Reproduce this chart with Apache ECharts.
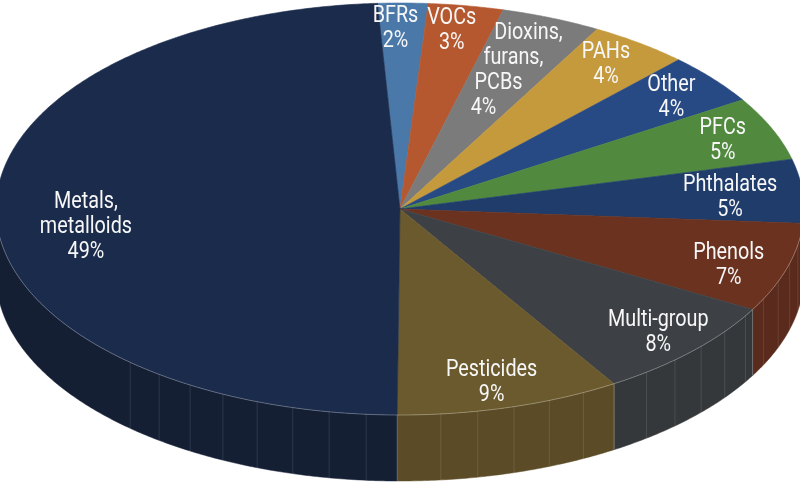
<!DOCTYPE html>
<html><head><meta charset="utf-8">
<script src="https://cdn.jsdelivr.net/npm/echarts@6/dist/echarts.min.js"></script>
<style>html,body{margin:0;padding:0;background:#fff}#c{width:800px;height:484px}</style>
</head><body><div id="c"></div>
<script>
// ---- data ----
const categories = ['BFRs', 'VOCs', 'Dioxins,\nfurans,\nPCBs', 'PAHs', 'Other', 'PFCs', 'Phthalates', 'Phenols', 'Multi-group', 'Pesticides', 'Metals,\nmetalloids'];
const values = [2, 3, 4, 4, 4, 5, 5, 7, 8, 9, 49];

// ---- styles ----
const topColors  = ['#4a78a8', '#b5582f', '#7b7b7b', '#c59a3c', '#284a84', '#51893f', '#1f3c6b', '#6b3220', '#3d4145', '#6b5a2d', '#1b2b4b'];
const sideColors = ['#3e6590', '#984a28', '#686868', '#a88333', '#213e6f', '#447435', '#1a335b', '#5a2a1c', '#34383b', '#5b4c27', '#141f34'];
const labelRadius = [0.88, 0.875, 0.74, 0.88, 0.87, 0.876, 0.83, 0.862, 0.876, 0.86, 0.79];
const labelDx = [-7, -6, -6, -5, -1, -3, -4, -5, 2, -3, 5];
const labelDy = [1, 0, 3, 2, 2, 2, 4, 6, -1, 3, 14];
const labelLineShift = [0, 0, -15, 0, 0, 0, 0, 0, 0, 0, 0];
const CX = 400, CY = 209, RX = 404, RY = 206, DEPTH = 66, START_DEG = -3.2;
const SEAM_STEP = 5.3, LINE_H = 25;

const total = values.reduce((a, b) => a + b, 0);
function P(deg, dz) {
  const r = deg * Math.PI / 180;
  return [CX + RX * Math.sin(r), CY - RY * Math.cos(r) + (dz || 0)];
}
function renderItem(params, api) {
  const i = params.dataIndex;
  let cum = 0;
  for (let k = 0; k < i; k++) cum += values[k];
  const a0 = START_DEG + cum / total * 360;
  const a1 = a0 + api.value(0) / total * 360;
  const children = [];
  // visible side wall (front half: 90..270 deg)
  const s0 = Math.max(a0, 90), s1 = Math.min(a1, 270);
  if (s1 > s0) {
    const top = [], bot = [];
    for (let d = s0; d < s1; d += 0.5) { top.push(P(d)); bot.push(P(d, DEPTH)); }
    top.push(P(s1)); bot.push(P(s1, DEPTH));
    children.push({ type: 'polygon', z2: 1, shape: { points: top.concat(bot.slice().reverse()) },
      style: { fill: sideColors[i], stroke: sideColors[i], lineWidth: 0.5 } });
    children.push({ type: 'polyline', z2: 5, shape: { points: top },
      style: { stroke: 'rgba(255,255,255,0.28)', lineWidth: 1, fill: null } });
    for (let d = 100; d < 222; d += SEAM_STEP) {
      if (d > s0 + 1.5 && d < s1 - 1.5) {
        const p = P(d);
        children.push({ type: 'line', z2: 4, shape: { x1: p[0], y1: p[1], x2: p[0], y2: p[1] + DEPTH },
          style: { stroke: 'rgba(255,255,255,0.11)', lineWidth: 1 } });
      }
    }
    if (a1 < 270 && a1 > 90) {
      const p = P(a1);
      children.push({ type: 'line', z2: 5, shape: { x1: p[0], y1: p[1], x2: p[0], y2: p[1] + DEPTH },
        style: { stroke: 'rgba(255,255,255,0.25)', lineWidth: 1 } });
    }
  }
  // top face
  const pts = [[CX, CY]];
  for (let d = a0; d < a1; d += 0.5) pts.push(P(d));
  pts.push(P(a1));
  children.push({ type: 'polygon', z2: 2, shape: { points: pts },
    style: { fill: topColors[i], stroke: topColors[i], lineWidth: 0.6 } });
  // label (one text element per line)
  const mid = (a0 + a1) / 2 * Math.PI / 180, lr = labelRadius[i];
  const lx = CX + RX * lr * Math.sin(mid) + labelDx[i];
  const ly = CY - RY * lr * Math.cos(mid) + labelDy[i];
  const lines = (categories[i] + '\n' + api.value(0) + '%').split('\n');
  const n = lines.length;
  lines.forEach(function (t, j) {
    const off = j - (n - 1) / 2;
    children.push({ type: 'text', z2: 20, scaleX: 0.86,
      x: lx + labelLineShift[i] * off, y: ly + LINE_H * off,
      style: { text: t, fill: '#f7f7f7',
        fontSize: 23, fontFamily: 'Roboto, "Liberation Sans", sans-serif',
        align: 'center', verticalAlign: 'middle' } });
  });
  return { type: 'group', children: children };
}

const chart = echarts.init(document.getElementById('c'), null, { renderer: 'canvas' });
chart.setOption({
  animation: false,
  backgroundColor: '#ffffff',
  series: [{
    type: 'custom',
    coordinateSystem: 'none',
    renderItem: renderItem,
    data: values.map((v, i) => ({ name: categories[i], value: [v] }))
  }]
});
</script>
</body></html>
